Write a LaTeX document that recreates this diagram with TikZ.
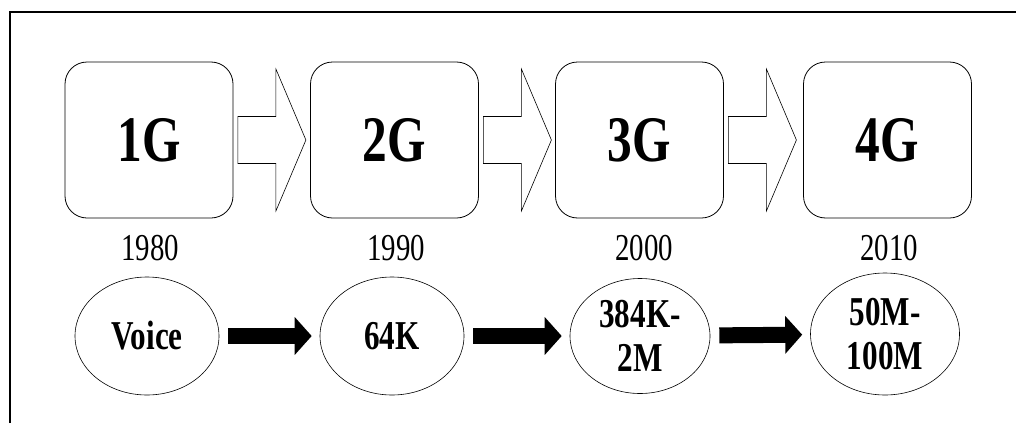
\documentclass[tikz,border=0pt]{standalone}
\usepackage{fontspec}
\setmainfont{Liberation Serif}[FakeStretch=0.76]
\usetikzlibrary{shapes.geometric,arrows.meta}
\begin{document}
\begin{tikzpicture}[x=1pt,y=-1pt,
  genbox/.style={draw,line width=0.8pt,rounded corners=22pt,minimum width=168pt,minimum height=156pt,inner sep=0pt,font=\bfseries\fontsize{65}{65}\selectfont},
  yearlbl/.style={inner sep=0pt,font=\fontsize{38}{38}\selectfont},
  rate/.style={draw,ellipse,line width=0.6pt,inner sep=0pt,align=center,font=\bfseries\fontsize{41}{44}\selectfont},
  hollowarrow/.style={draw,line width=0.6pt,fill=white,line join=miter},
  blackarrow/.style={line width=16pt,-{Triangle[length=17pt,width=37pt]},shorten <=9pt,shorten >=8pt}
]
\useasboundingbox (0,0) rectangle (1016,423);
% frame
\draw[line width=2pt] (10,423) -- (10,11.5) -- (1016,11.5);
% generation boxes
\node[genbox] (b1) at (149,140) {1G};
\node[genbox] (b2) at (394.5,140) {2G};
\node[genbox] (b3) at (639.5,140) {3G};
\node[genbox] (b4) at (887.5,140) {4G};
% hollow block arrows
\foreach \a in {b1,b2,b3}{
  \draw[hollowarrow] ([shift={(4.5,-23.5)}]\a.east) -- ++(38,0) -- ++(0,-47.5) -- ++(30,71) -- ++(-30,71) -- ++(0,-47.5) -- ++(-38,0) -- cycle;
}
% years
\node[yearlbl,anchor=base] (y1) at (150,260) {1980};
\node[yearlbl,anchor=base] (y2) at (396,260) {1990};
\node[yearlbl,anchor=base] (y3) at (644,260) {2000};
\node[yearlbl,anchor=base] (y4) at (889,260) {2010};
% rate ellipses
\node[rate,minimum width=144pt,minimum height=118pt] (e1) at (147,336) {Voice};
\node[rate,minimum width=144pt,minimum height=118pt] (e2) at (392,336) {64K};
\node[rate,minimum width=140pt,minimum height=115pt] (e3) at (640,336) {384K-\\2M};
\node[rate,minimum width=149pt,minimum height=122pt] (e4) at (885,334) {50M-\\100M};
% black arrows
\draw[blackarrow] (e1) -- (e2);
\draw[blackarrow] (e2) -- (e3);
\draw[blackarrow] (e3) -- (e4);
\end{tikzpicture}
\end{document}
